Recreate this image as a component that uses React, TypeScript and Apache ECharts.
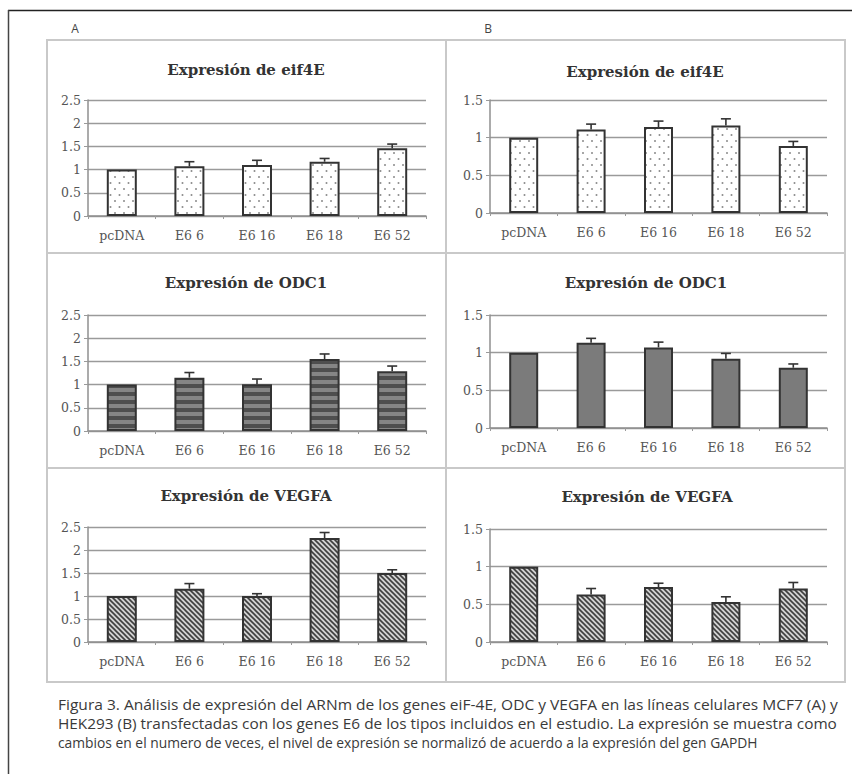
import React, { useEffect, useRef } from "react";
import * as echarts from "echarts";

// ---------- data ----------
const categories = ["pcDNA", "E6 6", "E6 16", "E6 18", "E6 52"];

const eif4eA = [1.0, 1.07, 1.1, 1.17, 1.46];
const eif4eAErr = [0, 0.1, 0.1, 0.07, 0.09];
const eif4eB = [1.0, 1.11, 1.14, 1.16, 0.89];
const eif4eBErr = [0, 0.07, 0.08, 0.09, 0.06];

const odc1A = [1.0, 1.15, 1.01, 1.55, 1.29];
const odc1AErr = [0, 0.11, 0.11, 0.11, 0.11];
const odc1B = [1.0, 1.13, 1.07, 0.92, 0.8];
const odc1BErr = [0, 0.06, 0.07, 0.07, 0.05];

const vegfaA = [1.0, 1.16, 1.0, 2.26, 1.5];
const vegfaAErr = [0, 0.11, 0.05, 0.12, 0.07];
const vegfaB = [1.0, 0.63, 0.73, 0.53, 0.71];
const vegfaBErr = [0, 0.08, 0.05, 0.07, 0.08];

const yMaxA = 2.5;
const yMaxB = 1.5;
const yStep = 0.5;

const titles = ["Expresión de eif4E", "Expresión de ODC1", "Expresión de VEGFA"];
const panelLetters = ["A", "B"];
const captionLines = [
  "Figura 3. Análisis de expresión del ARNm de los genes eiF-4E, ODC y VEGFA en las líneas celulares MCF7 (A) y",
  "HEK293 (B) transfectadas con los genes E6 de los tipos incluidos en el estudio. La expresión se muestra como",
  "cambios en el numero de veces, el nivel de expresión se normalizó de acuerdo a la expresión del gen GAPDH",
];

// ---------- patterns ----------
function makeTile(w: number, h: number, draw: (ctx: CanvasRenderingContext2D) => void) {
  const c = document.createElement("canvas");
  c.width = w;
  c.height = h;
  const ctx = c.getContext("2d")!;
  draw(ctx);
  return { image: c, repeat: "repeat", imageWidth: w, imageHeight: h } as any;
}

function dotsPattern() {
  return makeTile(9, 12, (ctx) => {
    ctx.fillStyle = "#ffffff";
    ctx.fillRect(0, 0, 9, 12);
    ctx.fillStyle = "#8a8a8a";
    ctx.beginPath();
    ctx.arc(2.5, 3, 1, 0, Math.PI * 2);
    ctx.fill();
    ctx.beginPath();
    ctx.arc(7, 9, 1, 0, Math.PI * 2);
    ctx.fill();
  });
}

function stripesPattern() {
  return makeTile(4, 8, (ctx) => {
    ctx.fillStyle = "#858585";
    ctx.fillRect(0, 0, 4, 8);
    ctx.fillStyle = "#4e4e4e";
    ctx.fillRect(0, 0, 4, 4);
  });
}

function hatchPattern() {
  return makeTile(5, 5, (ctx) => {
    ctx.fillStyle = "#d2d2d2";
    ctx.fillRect(0, 0, 5, 5);
    ctx.strokeStyle = "#3e3e3e";
    ctx.lineWidth = 1.6;
    ctx.beginPath();
    ctx.moveTo(-1, -1);
    ctx.lineTo(6, 6);
    ctx.moveTo(-1, 4);
    ctx.lineTo(1, 6);
    ctx.moveTo(4, -1);
    ctx.lineTo(6, 1);
    ctx.stroke();
  });
}

function measureText(text: string, font: string) {
  const ctx = document.createElement("canvas").getContext("2d")!;
  ctx.font = font;
  return ctx.measureText(text).width;
}

// ---------- layout ----------
const gridBoxes = [
  { left: 88, top: 100, width: 338, height: 116 },
  { left: 490, top: 100, width: 337, height: 113 },
  { left: 88, top: 315, width: 338, height: 116 },
  { left: 490, top: 315, width: 337, height: 113 },
  { left: 88, top: 527, width: 338, height: 115 },
  { left: 490, top: 529, width: 337, height: 113 },
];
const titlePos = [
  [246, 70],
  [645, 72],
  [246, 283],
  [646, 283],
  [246, 496],
  [647, 497],
];
const captionX = 58;
const captionWidths = [780, 780, 700];

const FONT_SERIF = "'DejaVu Serif', 'Liberation Serif', serif";
const CAPTION_FONT = "14px 'Open Sans', 'Noto Sans', sans-serif";

export default function App() {
  const ref = useRef<HTMLDivElement>(null);

  useEffect(() => {
    document.body.style.margin = "0";
    if (!ref.current) return;
    const chart = echarts.init(ref.current, undefined, { renderer: "svg" });

    const panels = [
      { vals: eif4eA, errs: eif4eAErr, max: yMaxA, color: dotsPattern(), title: titles[0] },
      { vals: eif4eB, errs: eif4eBErr, max: yMaxB, color: dotsPattern(), title: titles[0] },
      { vals: odc1A, errs: odc1AErr, max: yMaxA, color: stripesPattern(), title: titles[1] },
      { vals: odc1B, errs: odc1BErr, max: yMaxB, color: "#7b7b7b", title: titles[1] },
      { vals: vegfaA, errs: vegfaAErr, max: yMaxA, color: hatchPattern(), title: titles[2] },
      { vals: vegfaB, errs: vegfaBErr, max: yMaxB, color: hatchPattern(), title: titles[2] },
    ];

    const grid = gridBoxes.map((g) => ({ ...g, containLabel: false }));
    const xAxis = panels.map((_, i) => ({
      type: "category",
      gridIndex: i,
      data: categories,
      axisLine: { lineStyle: { color: "#8f8f8f", width: 1.5 } },
      axisTick: { show: true, length: 3, lineStyle: { color: "#9a9a9a", width: 1 } },
      axisLabel: { color: "#555", fontFamily: FONT_SERIF, fontSize: 12.5, margin: 13 },
    }));
    const yAxis = panels.map((p, i) => ({
      type: "value",
      gridIndex: i,
      min: 0,
      max: p.max,
      interval: yStep,
      axisLine: { show: true, lineStyle: { color: "#8f8f8f", width: 1.5 } },
      axisTick: { show: true, length: 4, lineStyle: { color: "#9a9a9a" } },
      axisLabel: { color: "#555", fontFamily: FONT_SERIF, fontSize: 12.5, margin: 7 },
      splitLine: { lineStyle: { color: "#9a9a9a", width: 1.3 } },
    }));

    const series: any[] = [];
    panels.forEach((p, i) => {
      series.push({
        type: "bar",
        xAxisIndex: i,
        yAxisIndex: i,
        data: p.vals,
        barWidth: i % 2 === 0 ? 30 : 29,
        itemStyle: { color: p.color, borderColor: "#333", borderWidth: 2 },
        z: 2,
      });
      series.push({
        type: "custom",
        xAxisIndex: i,
        yAxisIndex: i,
        data: p.vals.map((v, k) => [k, v, p.errs[k]]),
        encode: { x: 0, y: 1 },
        z: 3,
        renderItem: (params: any, api: any) => {
          const k = api.value(0);
          const v = api.value(1);
          const e = api.value(2);
          if (!e) return null;
          const p0 = api.coord([k, v]);
          const p1 = api.coord([k, v + e]);
          const st = { stroke: "#333", lineWidth: 1.6 };
          return {
            type: "group",
            children: [
              { type: "line", shape: { x1: p0[0], y1: p0[1], x2: p1[0], y2: p1[1] }, style: st },
              { type: "line", shape: { x1: p1[0] - 5, y1: p1[1], x2: p1[0] + 5, y2: p1[1] }, style: st },
            ],
          };
        },
      });
    });

    const graphic: any[] = [
      // outer frame
      { type: "line", shape: { x1: 8, y1: 10.5, x2: 852, y2: 10.5 }, style: { stroke: "#222", lineWidth: 1.5 } },
      { type: "line", shape: { x1: 8.5, y1: 10, x2: 8.5, y2: 774 }, style: { stroke: "#444", lineWidth: 1.5 } },
      // panel borders
      { type: "rect", shape: { x: 47, y: 40, width: 798, height: 642 }, style: { fill: "none", stroke: "#c9c9c9", lineWidth: 2 } },
      { type: "line", shape: { x1: 446, y1: 40, x2: 446, y2: 682 }, style: { stroke: "#c9c9c9", lineWidth: 2 } },
      { type: "line", shape: { x1: 47, y1: 253, x2: 845, y2: 253 }, style: { stroke: "#c9c9c9", lineWidth: 2 } },
      { type: "line", shape: { x1: 47, y1: 468, x2: 845, y2: 468 }, style: { stroke: "#c9c9c9", lineWidth: 2 } },
      // panel letters
      { type: "text", x: 75, y: 28, style: { text: panelLetters[0], fill: "#444", font: "12px 'Open Sans', sans-serif", textAlign: "center", textVerticalAlign: "middle" } },
      { type: "text", x: 488, y: 28, style: { text: panelLetters[1], fill: "#444", font: "12px 'Open Sans', sans-serif", textAlign: "center", textVerticalAlign: "middle" } },
    ];
    panels.forEach((p, i) => {
      graphic.push({
        type: "text",
        x: titlePos[i][0],
        y: titlePos[i][1],
        style: {
          text: p.title,
          fill: "#333",
          font: `bold 15px ${FONT_SERIF}`,
          textAlign: "center",
          textVerticalAlign: "middle",
        },
      });
    });
    captionLines.forEach((t, i) => {
      const w = measureText(t, CAPTION_FONT) || captionWidths[i];
      graphic.push({
        type: "text",
        x: captionX,
        y: 704 + i * 19.3,
        scaleX: captionWidths[i] / w,
        style: {
          text: t,
          fill: "#3a3a3a",
          font: CAPTION_FONT,
          textAlign: "left",
          textVerticalAlign: "middle",
        },
      });
    });

    chart.setOption({
      animation: false,
      backgroundColor: "#ffffff",
      grid,
      xAxis,
      yAxis,
      series,
      graphic,
    } as any);

    return () => chart.dispose();
  }, []);

  return <div ref={ref} style={{ width: 852, height: 774 }} />;
}
